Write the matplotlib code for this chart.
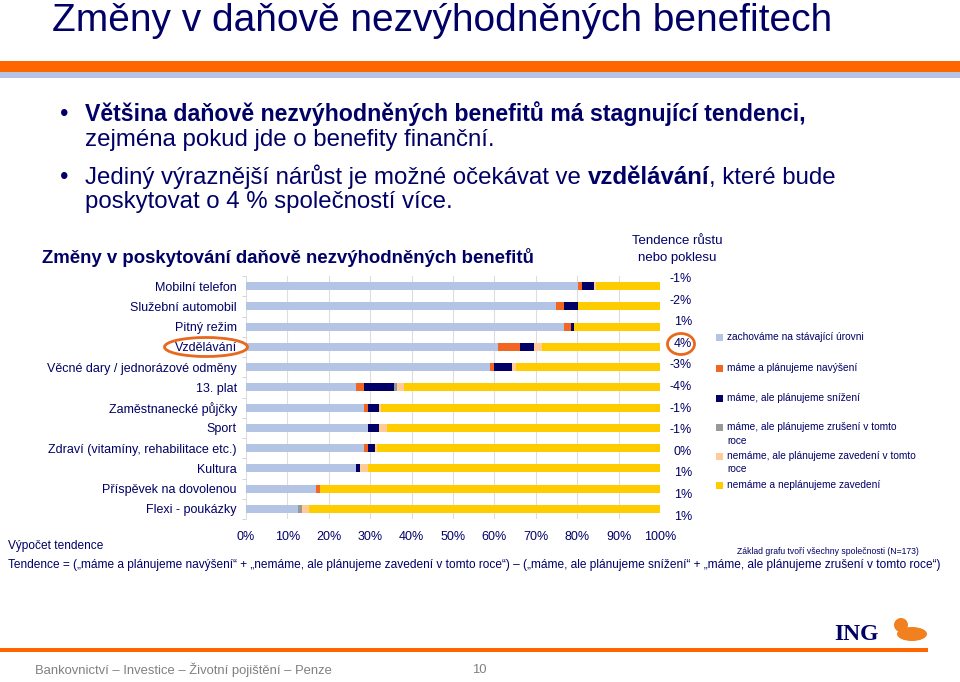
import matplotlib.pyplot as plt
from matplotlib.patches import Rectangle, Ellipse

plt.rcParams['font.family'] = ['Liberation Sans', 'DejaVu Sans']

W, H = 960, 682


def px(x):
    return x / W


def py(y):
    return 1 - y / H


# data
categories = ["Mobilní telefon", "Služební automobil", "Pitný režim", "Vzdělávání",
              "Věcné dary / jednorázové odměny", "13. plat", "Zaměstnanecké půjčky",
              "Sport", "Zdraví (vitamíny, rehabilitace etc.)", "Kultura",
              "Příspěvek na dovolenou", "Flexi - poukázky"]

zachovame = [80.1, 74.9, 76.8, 60.8, 58.9, 26.6, 28.6, 29.5, 28.6, 26.6, 16.9, 12.6]
navyseni = [1.1, 1.9, 1.7, 5.3, 1.0, 2.0, 0.9, 0.0, 0.9, 0.0, 1.0, 0.0]
snizeni = [2.8, 3.5, 0.8, 3.4, 4.4, 7.1, 2.7, 2.7, 1.6, 0.9, 0.0, 0.0]
zruseni = [0.0, 0.0, 0.0, 0.0, 0.0, 0.8, 0.0, 0.0, 0.0, 0.0, 0.0, 0.9]
zavedeni = [0.5, 0.0, 0.0, 1.9, 0.8, 1.7, 0.5, 1.8, 0.5, 1.9, 0.0, 1.6]
nezavedeni = [15.5, 19.7, 20.7, 28.6, 34.9, 61.8, 67.3, 66.0, 68.4, 70.6, 82.1, 84.9]

tendence = ["-1%", "-2%", "1%", "4%", "-3%", "-4%", "-1%", "-1%", "0%", "1%", "1%", "1%"]

series_labels = ["zachováme na stávající úrovni",
                 "máme a plánujeme navýšení",
                 "máme, ale plánujeme snížení",
                 "máme, ale plánujeme zrušení v tomto\nroce",
                 "nemáme, ale plánujeme zavedení v tomto\nroce",
                 "nemáme a neplánujeme zavedení"]
series_colors = ['#B4C4E4', '#F26522', '#000066', '#999999', '#FFCC99', '#FFCC00']
series = [zachovame, navyseni, snizeni, zruseni, zavedeni, nezavedeni]

navy = '#000066'
orange = '#FF6600'

fig = plt.figure(figsize=(9.6, 6.82), dpi=100)
renderer = fig.canvas.get_renderer()

# header bands
fig.add_artist(Rectangle((0, py(72)), 1, 11 / H, transform=fig.transFigure, color=orange, lw=0))
fig.add_artist(Rectangle((0, py(78)), 1, 6 / H, transform=fig.transFigure, color='#B4C4E4', lw=0))

fig.text(px(52), py(31), "Změny v daňově nezvýhodněných benefitech", fontsize=28,
         color=navy, va='baseline')

# bullets
fs = 17.3
fig.text(px(60), py(121), "•", fontsize=fs, color=navy, va='baseline')
fig.text(px(85), py(121), "Většina daňově nezvýhodněných benefitů má stagnující tendenci,",
         fontsize=16.7, color=navy, va='baseline', fontweight='bold')
fig.text(px(85), py(146), "zejména pokud jde o benefity finanční.",
         fontsize=fs, color=navy, va='baseline')
fig.text(px(60), py(184), "•", fontsize=fs, color=navy, va='baseline')

runs = [("Jediný výraznější nárůst je možné očekávat ve", 'normal'),
        ("vzdělávání", 'bold'),
        (", které bude", 'normal')]
t1 = fig.text(0, 0, "x x", fontsize=fs)
t2 = fig.text(0, 0, "xx", fontsize=fs)
space = t1.get_window_extent(renderer).width - t2.get_window_extent(renderer).width
t1.remove()
t2.remove()
x = 85
for i, (txt, w) in enumerate(runs):
    t = fig.text(px(x), py(184), txt, fontsize=fs, color=navy, va='baseline', fontweight=w)
    x += t.get_window_extent(renderer).width
    if i == 0:
        x += space
fig.text(px(85), py(208), "poskytovat o 4 % společností více.", fontsize=fs, color=navy,
         va='baseline')

fig.text(px(42), py(263), "Změny v poskytování daňově nezvýhodněných benefitů", fontsize=13.4,
         fontweight='bold', color=navy, va='baseline')

# chart
ax = fig.add_axes([px(246), py(519), 414 / W, 243 / H])
ypos = list(range(len(categories)))
left = [0.0] * len(categories)
for vals, col in zip(series, series_colors):
    ax.barh(ypos, vals, left=left, height=0.4, color=col, lw=0)
    left = [a + b for a, b in zip(left, vals)]

ax.set_xlim(0, 100)
ax.set_ylim(11.5, -0.5)
ax.set_xticks(range(0, 101, 10))
ax.set_xticklabels([f"{v}%" for v in range(0, 101, 10)])
ax.set_yticks(ypos)
ax.set_yticklabels(categories)
ax.tick_params(axis='x', length=0, pad=8.5, labelsize=9, labelcolor=navy)
ax.tick_params(axis='y', length=0, pad=6.5, labelsize=9, labelcolor=navy)
ax.set_yticks([v - 0.5 for v in range(13)], minor=True)
ax.tick_params(axis='y', which='minor', length=3, color='#C8CCDD')
ax.grid(axis='x', color='#DDDDDD', lw=0.8)
ax.set_axisbelow(True)
for s in ax.spines.values():
    s.set_visible(False)

# tendence column
fig.text(px(677), py(241), "Tendence růstu", fontsize=9.5, color=navy, ha='center', va='center')
fig.text(px(677), py(258), "nebo poklesu", fontsize=9.5, color=navy, ha='center', va='center')
for i, lab in enumerate(tendence):
    fig.text(px(692), py(279 + i * 21.6), lab, fontsize=9, color=navy, ha='right', va='center')

# legend
leg_y = [337, 368, 398, 427, 456, 485]
for lab, col, yy in zip(series_labels, series_colors, leg_y):
    fig.add_artist(Rectangle((px(716), py(yy + 3.5)), 7 / W, 7 / H, transform=fig.transFigure,
                             color=col, lw=0))
    for k, line in enumerate(lab.split("\n")):
        fig.text(px(727), py(yy + k * 13.5), line, fontsize=7.3, color=navy, va='center')

# highlights
fig.add_artist(Ellipse((px(206), py(347)), 83 / W, 19 / H, transform=fig.transFigure,
                       fill=False, ec='#E8681E', lw=2))
fig.add_artist(Ellipse((px(681), py(344)), 27 / W, 21 / H, transform=fig.transFigure,
                       fill=False, ec='#E8681E', lw=2))

# bottom notes
fig.text(px(8), py(546), "Výpočet tendence", fontsize=8.6, color=navy, va='center')
fig.text(px(737), py(551), "Základ grafu tvoří všechny společnosti (N=173)", fontsize=6.2,
         color=navy, va='center')
fig.text(px(8), py(565),
         "Tendence = („máme a plánujeme navýšení“ + „nemáme, ale plánujeme zavedení v tomto roce“)"
         " – („máme, ale plánujeme snížení“ + „máme, ale plánujeme zrušení v tomto roce“)",
         fontsize=8.6, color=navy, va='center')

# footer
fig.add_artist(Rectangle((0, py(652)), 928 / W, 4 / H, transform=fig.transFigure,
                         color=orange, lw=0))
fig.text(px(834), py(640), "ING", fontsize=17, fontweight='bold', family='Liberation Serif',
         color=navy, va='baseline')
fig.add_artist(Ellipse((px(912), py(634)), 30 / W, 14 / H, transform=fig.transFigure,
                       color='#F08020', lw=0))
fig.add_artist(Ellipse((px(901), py(625)), 14 / W, 14 / H, transform=fig.transFigure,
                       color='#F08020', lw=0))
fig.text(px(35), py(670), "Bankovnictví – Investice – Životní pojištění – Penze", fontsize=9.4,
         color='#808080', va='center')
fig.text(px(472), py(670), "10", fontsize=9.4, color='#808080', va='center')

fig.savefig("out.png", dpi=100)
